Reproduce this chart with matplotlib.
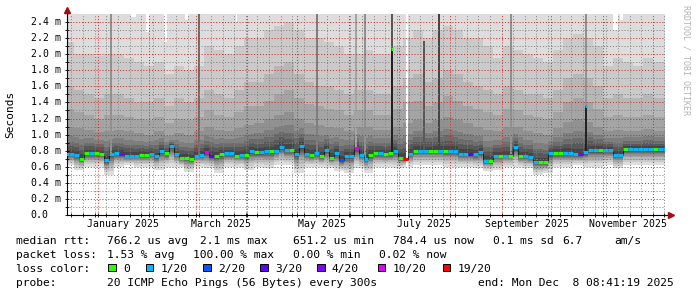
#!/usr/bin/env python3
# SmokePing style latency graph (last 360 days), redrawn with matplotlib.
# Smoke = 20 sorted pings per step, shaded from light (outer) to dark (median).

import datetime as dt
import numpy as np
import matplotlib
matplotlib.use("Agg")
import matplotlib.pyplot as plt
import matplotlib.dates as mdates
from matplotlib.patches import Rectangle

END = dt.datetime(2025, 12, 8, 8, 41, 19)
START = END - dt.timedelta(days=360)

# median rtt (ms), one value every 3 days from START
median_ms = [
    0.76, 0.76, 0.75, 0.70, 0.77, 0.77, 0.77, 0.76, 0.68, 0.76,
    0.77, 0.76, 0.74, 0.74, 0.74, 0.75, 0.75, 0.76, 0.73, 0.80,
    0.77, 0.86, 0.76, 0.71, 0.71, 0.70, 0.74, 0.75, 0.78, 0.74,
    0.74, 0.76, 0.77, 0.77, 0.74, 0.75, 0.75, 0.80, 0.78, 0.78,
    0.79, 0.79, 0.80, 0.85, 0.81, 0.81, 0.76, 0.86, 0.76, 0.75,
    0.77, 0.73, 0.81, 0.71, 0.77, 0.68, 0.73, 0.73, 0.83, 0.75,
    0.70, 0.75, 0.77, 0.77, 0.76, 0.77, 0.80, 0.71, 0.70, 0.76,
    0.80, 0.80, 0.80, 0.80, 0.80, 0.80, 0.80, 0.80, 0.80, 0.76,
    0.76, 0.76, 0.76, 0.78, 0.67, 0.67, 0.74, 0.74, 0.74, 0.74,
    0.84, 0.73, 0.73, 0.72, 0.66, 0.66, 0.66, 0.77, 0.77, 0.77,
    0.77, 0.77, 0.76, 0.76, 0.78, 0.81, 0.81, 0.81, 0.81, 0.81,
    0.75, 0.75, 0.82, 0.82, 0.82, 0.82, 0.82, 0.82, 0.82, 0.82, 0.82,
]
# lost pings (out of 20) for each median value
median_loss = [
    1, 1, 1, 0, 0, 1, 0, 0, 1, 1,
    1, 4, 1, 1, 1, 0, 0, 1, 1, 1,
    0, 1, 1, 0, 0, 0, 1, 1, 10, 3,
    0, 0, 1, 1, 0, 1, 0, 1, 0, 1,
    1, 0, 1, 1, 1, 0, 1, 1, 1, 0,
    1, 0, 1, 0, 1, 2, 1, 1, 10, 1,
    1, 0, 0, 1, 0, 0, 1, 0, 19, 1,
    0, 1, 1, 0, 0, 1, 0, 1, 1, 1,
    1, 3, 1, 1, 1, 0, 1, 0, 1, 0,
    1, 0, 1, 1, 1, 0, 0, 1, 0, 0,
    1, 1, 1, 4, 1, 1, 1, 0, 1, 1,
    1, 1, 0, 1, 1, 1, 1, 1, 0, 1, 1,
]

# smoke levels (ms), one value every 6 days from START; slowest ping is off the chart
SMOKE_TOP = 2.6
smoke_p19 = [
    2.15, 2.0, 2.0, 1.98, 2.0, 2.0, 1.95, 1.9, 1.85, 1.9,
    1.75, 1.85, 1.8, 1.85, 2.1, 2.05, 2.0, 2.1, 2.2, 2.2,
    2.3, 2.35, 2.4, 2.3, 2.2, 2.2, 2.15, 2.1, 2.0, 2.0,
    2.05, 2.0, 2.0, 2.1, 2.2, 2.3, 2.2, 2.3, 2.35, 2.3,
    2.2, 2.2, 2.1, 1.95, 2.1, 2.05, 2.0, 1.95, 1.9, 2.05,
    2.2, 2.25, 2.2, 2.1, 1.85, 1.95, 1.9, 1.85, 1.95, 1.9,
    1.9,
]
smoke_p18 = [
    1.6, 1.55, 1.5, 1.45, 1.5, 1.5, 1.45, 1.4, 1.4, 1.45,
    1.35, 1.45, 1.4, 1.45, 1.55, 1.5, 1.45, 1.55, 1.65, 1.65,
    1.75, 1.85, 1.9, 1.75, 1.65, 1.6, 1.6, 1.55, 1.5, 1.55,
    1.55, 1.5, 1.5, 1.6, 1.7, 1.75, 1.65, 1.7, 1.8, 1.75,
    1.65, 1.6, 1.55, 1.5, 1.6, 1.55, 1.5, 1.5, 1.45, 1.55,
    1.7, 1.75, 1.7, 1.6, 1.45, 1.5, 1.45, 1.45, 1.5, 1.45,
    1.45,
]
smoke_p17 = [
    1.32, 1.28, 1.25, 1.2, 1.25, 1.25, 1.22, 1.2, 1.18, 1.22,
    1.15, 1.2, 1.18, 1.22, 1.3, 1.25, 1.22, 1.28, 1.35, 1.35,
    1.42, 1.5, 1.55, 1.45, 1.38, 1.35, 1.32, 1.3, 1.25, 1.3,
    1.3, 1.25, 1.25, 1.32, 1.4, 1.42, 1.35, 1.4, 1.48, 1.42,
    1.36, 1.32, 1.28, 1.25, 1.32, 1.3, 1.25, 1.22, 1.2, 1.28,
    1.4, 1.45, 1.4, 1.32, 1.22, 1.25, 1.22, 1.22, 1.25, 1.22,
    1.22,
]
smoke_p16 = [
    1.1, 1.08, 1.06, 1.03, 1.05, 1.06, 1.04, 1.02, 1.0, 1.04,
    0.98, 1.02, 1.0, 1.04, 1.1, 1.06, 1.04, 1.08, 1.12, 1.14,
    1.2, 1.25, 1.28, 1.2, 1.15, 1.12, 1.1, 1.08, 1.05, 1.1,
    1.1, 1.06, 1.06, 1.1, 1.15, 1.18, 1.14, 1.18, 1.22, 1.18,
    1.14, 1.1, 1.06, 1.04, 1.1, 1.1, 1.05, 1.02, 1.0, 1.08,
    1.16, 1.2, 1.16, 1.1, 1.04, 1.06, 1.05, 1.05, 1.07, 1.05,
    1.05,
]
smoke_min = [
    0.62, 0.56, 0.6, 0.6, 0.5, 0.6, 0.62, 0.6, 0.6, 0.56,
    0.6, 0.6, 0.54, 0.6, 0.58, 0.52, 0.6, 0.6, 0.56, 0.6,
    0.58, 0.62, 0.62, 0.52, 0.6, 0.6, 0.58, 0.55, 0.52, 0.58,
    0.52, 0.6, 0.6, 0.58, 0.6, 0.62, 0.62, 0.62, 0.6, 0.6,
    0.6, 0.58, 0.55, 0.56, 0.6, 0.6, 0.58, 0.5, 0.52, 0.6,
    0.6, 0.62, 0.6, 0.6, 0.62, 0.58, 0.62, 0.62, 0.62, 0.62,
    0.62,
]
# typical place of the inner pings: p2..p10 between min and median,
# p11..p15 between median and p16
lower_profile = [0.2, 0.35, 0.48, 0.58, 0.67, 0.75, 0.83, 0.9, 0.96]
upper_profile = [0.03, 0.15, 0.3, 0.45, 0.65]

# short spells where even the slowest ping stayed below the chart top
notch_day = [40.0, 48.5, 59.5, 72.0, 102.0, 330.0, 334.0]
notch_ms = [2.46, 2.27, 2.15, 2.43, 2.4, 2.3, 2.42]
notch_len = [2.5, 1.5, 2.0, 1.5, 1.0, 3.0, 2.0]

# single days where the whole smoke went up
stripe_day = [26.5, 79.5, 150.3, 174.0, 179.5, 195.5, 215.0, 224.0, 267.5, 312.5]
stripe_top = [2.6, 2.6, 2.6, 2.6, 2.6, 2.6, 2.17, 2.6, 2.6, 2.6]
stripe_rank = [5, 7, 6, 4, 5, 8, 8, 9, 5, 5]
gap_day = [204.6]          # no data
spike_day = [195.5, 312.5]  # median outliers
spike_ms = [2.07, 1.36]
spike_loss = [0, 1]

month_labels = ["January 2025", "March 2025", "May 2025",
                "July 2025", "September 2025", "November 2025"]
label_months = [1, 3, 5, 7, 9, 11]

LOSS_LEVELS = [0, 1, 2, 3, 4, 10, 19]
LOSS_COLORS = ["#26ff00", "#00b8ff", "#0059ff", "#5e00ff", "#7e00ff", "#dd00ff", "#ff0000"]
LOSS_NAMES = ["0", "1/20", "2/20", "3/20", "4/20", "10/20", "19/20"]
MONO = "DejaVu Sans Mono"
W, H = 697.0, 297.0


def loss_color(n):
    col = LOSS_COLORS[0]
    for lvl, c in zip(LOSS_LEVELS, LOSS_COLORS):
        if n >= lvl:
            col = c
    return col


def gray(rank):
    # smokeping shade for band rank 1 (outer) .. 10 (around median)
    v = int(190 / 10 * (10 - rank)) + 50
    return "#%02x%02x%02x" % (v, v, v)


def fx(px):
    return px / W


def fy(py):
    return 1 - py / H


med = np.asarray(median_ms, float)
n = len(med)
days = np.arange(n) * 3.0
x0 = mdates.date2num(START)
xs = x0 + days


def fine(a):
    return np.repeat(np.asarray(a, float), 2)[:n]


lo = fine(smoke_min)
hi = fine(smoke_p16)
pings = [lo]
pings += [lo + f * (med - lo) for f in lower_profile]
pings += [med + f * (hi - med) for f in upper_profile]
pings += [hi, fine(smoke_p17), fine(smoke_p18), fine(smoke_p19), np.full(n, SMOKE_TOP)]

fig = plt.figure(figsize=(W / 100, H / 100), dpi=100)
fig.patch.set_facecolor("white")
ax = fig.add_axes([fx(67), fy(215), 598 / W, 201 / H])

for k in range(1, 11):
    ax.fill_between(xs, pings[k - 1], pings[20 - k], step="mid",
                    color=gray(k), linewidth=0, zorder=1)

nd = np.asarray(notch_day)
ax.bar(x0 + nd, SMOKE_TOP - np.asarray(notch_ms), width=notch_len, bottom=notch_ms,
       color="white", linewidth=0, zorder=1.1)

sd = np.asarray(stripe_day)
ax.bar(x0 + sd, np.asarray(stripe_top) - np.interp(sd, days, med), width=1.2,
       bottom=np.interp(sd, days, med), color=[gray(r) for r in stripe_rank],
       linewidth=0, zorder=1.2)
ax.bar(x0 + np.asarray(gap_day), SMOKE_TOP, width=1.0, color="white", linewidth=0, zorder=1.3)

# median: thin dark line plus thick loss coloured steps
ax.step(xs, med, where="mid", color="#202020", lw=0.7, zorder=4)
ax.hlines(med, xs - 1.5, xs + 1.5, colors=[loss_color(v) for v in median_loss],
          lw=2.2, zorder=5)
spd = np.asarray(spike_day)
ax.vlines(x0 + spd, np.interp(spd, days, med), spike_ms, color="#202020", lw=1.4, zorder=4)
ax.hlines(spike_ms, x0 + spd - 0.7, x0 + spd + 0.7,
          colors=[loss_color(v) for v in spike_loss], lw=2.2, zorder=5)

ax.set_xlim(x0, mdates.date2num(END))
ax.set_ylim(0, 2.5)
ax.set_yticks(np.arange(0, 2.41, 0.2))
ax.set_yticks(np.arange(0.1, 2.5, 0.2), minor=True)
ax.xaxis.set_major_locator(mdates.MonthLocator())
ax.xaxis.set_minor_locator(mdates.WeekdayLocator(byweekday=mdates.MO))
ax.set_axisbelow(False)
ax.grid(which="major", color=(0.9, 0.1, 0.1, 0.28), ls=(0, (1, 2)), lw=0.7)
ax.grid(which="minor", color=(0.5, 0.5, 0.5, 0.35), ls=(0, (1, 2)), lw=0.7)
ax.tick_params(which="both", direction="inout", length=3, width=0.6,
               labelbottom=False, labelleft=False)
for s in ("top", "right"):
    ax.spines[s].set_visible(False)
for s in ("left", "bottom"):
    ax.spines[s].set_color("black")
    ax.spines[s].set_linewidth(0.8)

# axis arrows
ax.plot([0, 0], [1, 1.02], color="black", lw=0.8, transform=ax.transAxes, clip_on=False)
ax.plot([1, 1.006], [0, 0], color="black", lw=0.8, transform=ax.transAxes, clip_on=False)
ax.plot([0], [1.022], marker="^", ms=4, color="#a01010", transform=ax.transAxes, clip_on=False)
ax.plot([1.01], [0], marker=">", ms=4, color="#a01010", transform=ax.transAxes, clip_on=False)

# y tick labels
for v in np.arange(0, 2.41, 0.2):
    txt = "0.0" if v < 0.01 else "%.1f m" % v
    fig.text(fx(30.7), fy(215 - v / 2.5 * 201), txt, ha="left", va="center",
             fontsize=7.1, family=MONO)
# month labels, centred mid month like rrdtool
for m, lab in zip(label_months, month_labels):
    xm = mdates.date2num(dt.datetime(2025, m, 16))
    ax.text(xm, -9.3 / 201, lab, transform=ax.get_xaxis_transform(),
            ha="center", va="center", fontsize=7.1, family=MONO)

fig.text(fx(10), fy(114.5), "Seconds", rotation=90, ha="center", va="center",
         fontsize=8, family=MONO)
fig.text(fx(686), fy(60), "RRDTOOL / TOBI OETIKER", rotation=270, ha="center",
         va="center", fontsize=6, family=MONO, color="#b4b4b4")

# legend
rows = [
    (241, [(16, "median rtt:"), (107.3, "766.2 us avg"), (200.3, "2.1 ms max"),
           (293.3, "651.2 us min"), (393.3, "784.4 us now"), (493.3, "0.1 ms sd"),
           (562.7, "6.7"), (614, "am/s")]),
    (255, [(16, "packet loss:"), (107.3, "1.53 % avg"), (193.3, "100.00 % max"),
           (293.3, "0.00 % min"), (379.3, "0.02 % now")]),
    (269, [(16, "loss color:")]),
    (283, [(16, "probe:"), (107.3, "20 ICMP Echo Pings (56 Bytes) every 300s"),
           (478.3, "end: Mon Dec  8 08:41:19 2025")]),
]
for py, parts in rows:
    for px, s in parts:
        fig.text(fx(px), fy(py), s, ha="left", va="center", fontsize=8.1, family=MONO)

box_x = [108.3, 146, 203.3, 260.3, 317.3, 377.7, 442.7]
for bx, c, name in zip(box_x, LOSS_COLORS, LOSS_NAMES):
    fig.add_artist(Rectangle((fx(bx), fy(271.3)), 7.3 / W, 7.3 / H,
                             transform=fig.transFigure, facecolor=c,
                             edgecolor="black", lw=0.7))
    fig.text(fx(bx + 14.5), fy(269), name, ha="left", va="center",
             fontsize=8.1, family=MONO)

fig.savefig("out.png", dpi=100)
